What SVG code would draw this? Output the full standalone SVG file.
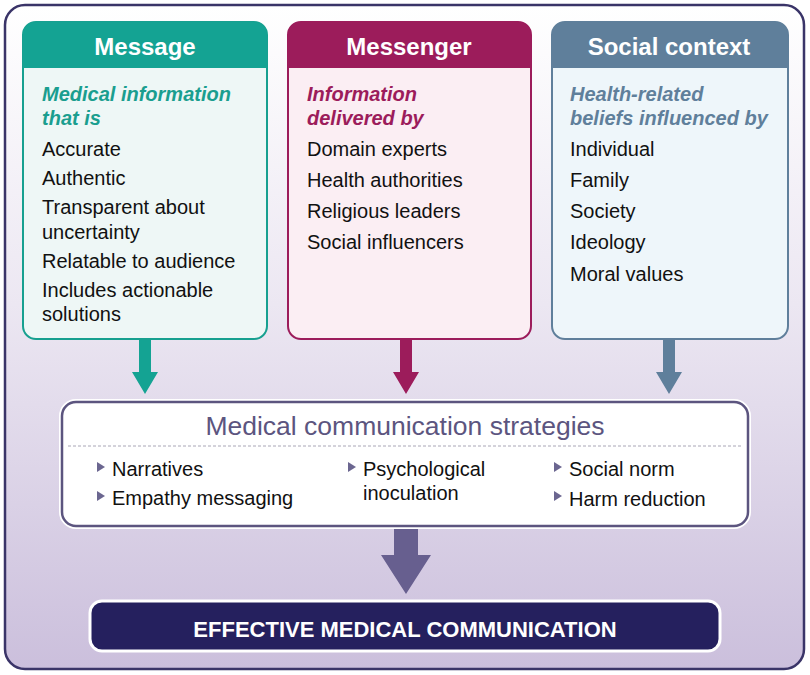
<svg xmlns="http://www.w3.org/2000/svg" width="810" height="675" viewBox="0 0 810 675">
<defs>
<linearGradient id="bg" x1="0" y1="0" x2="0" y2="1">
<stop offset="0" stop-color="#ffffff"/>
<stop offset="0.45" stop-color="#ece7f2"/>
<stop offset="1" stop-color="#cbbfdc"/>
</linearGradient>
</defs>
<style>
text{font-family:"Liberation Sans",Arial,sans-serif;}
.hd{font-size:24px;font-weight:bold;fill:#ffffff;text-anchor:middle;}
.sub{font-size:20px;font-style:italic;font-weight:bold;}
.it{font-size:20px;fill:#111111;}
.st{font-size:20px;fill:#111111;}
.tri{fill:#6b6690;}
</style>
<rect x="5" y="5" width="799" height="664" rx="20" fill="url(#bg)" stroke="#3a3468" stroke-width="2.5"/>

<g id="message">
<rect x="23" y="22" width="244" height="317" rx="13" fill="#eef7f6" stroke="#17a090" stroke-width="2"/>
<path d="M23,68 V35 a13,13 0 0 1 13,-13 H254 a13,13 0 0 1 13,13 V68 Z" fill="#14a393"/>
<text class="hd" x="145" y="55">Message</text>
<text class="sub" fill="#1a9e8f" x="42" y="101">Medical information</text>
<text class="sub" fill="#1a9e8f" x="42" y="125">that is</text>
<text class="it" x="42" y="156">Accurate</text>
<text class="it" x="42" y="185">Authentic</text>
<text class="it" x="42" y="214">Transparent about</text>
<text class="it" x="42" y="239">uncertainty</text>
<text class="it" x="42" y="268">Relatable to audience</text>
<text class="it" x="42" y="297">Includes actionable</text>
<text class="it" x="42" y="321">solutions</text>
</g>

<g id="messenger">
<rect x="288" y="22" width="243" height="317" rx="13" fill="#fbeef3" stroke="#9c1c5b" stroke-width="2"/>
<path d="M288,68 V35 a13,13 0 0 1 13,-13 H518 a13,13 0 0 1 13,13 V68 Z" fill="#9c1c5b"/>
<text class="hd" x="409" y="55">Messenger</text>
<text class="sub" fill="#9c1c5b" x="307" y="101">Information</text>
<text class="sub" fill="#9c1c5b" x="307" y="125">delivered by</text>
<text class="it" x="307" y="156">Domain experts</text>
<text class="it" x="307" y="187">Health authorities</text>
<text class="it" x="307" y="218">Religious leaders</text>
<text class="it" x="307" y="249">Social influencers</text>
</g>

<g id="social">
<rect x="552" y="22" width="236" height="317" rx="13" fill="#eef6fa" stroke="#5f7f9b" stroke-width="2"/>
<path d="M552,68 V35 a13,13 0 0 1 13,-13 H775 a13,13 0 0 1 13,13 V68 Z" fill="#5f7f9b"/>
<text class="hd" x="669" y="55">Social context</text>
<text class="sub" fill="#5f7f9b" x="570" y="101">Health-related</text>
<text class="sub" fill="#5f7f9b" x="570" y="125">beliefs influenced by</text>
<text class="it" x="570" y="156">Individual</text>
<text class="it" x="570" y="187">Family</text>
<text class="it" x="570" y="218">Society</text>
<text class="it" x="570" y="249">Ideology</text>
<text class="it" x="570" y="281">Moral values</text>
</g>

<g id="connectors">
<polygon points="139,340 151,340 151,372 158,372 145,394 132,372 139,372" fill="#14a393"/>
<polygon points="400,340 412,340 412,372 419,372 406,394 393,372 400,372" fill="#9c1c5b"/>
<polygon points="663,340 675,340 675,372 682,372 669,394 656,372 663,372" fill="#5f7f9b"/>
<polygon points="394,527 418,527 418,555 431,555 406,594 381,555 394,555" fill="#675f8f"/>
</g>

<g id="strategies">
<rect x="62" y="402" width="686" height="124" rx="14" fill="#ffffff" stroke="#ffffff" stroke-width="6"/>
<rect x="62" y="402" width="686" height="124" rx="14" fill="#ffffff" stroke="#5c557f" stroke-width="2.5"/>
<text x="405" y="435" font-size="26.5" fill="#5c557f" text-anchor="middle">Medical communication strategies</text>
<line x1="68" y1="446" x2="742" y2="446" stroke="#a9a6b6" stroke-width="1" stroke-dasharray="3,2"/>
<polygon class="tri" points="97,462 97,472 105,467"/>
<text class="st" x="112" y="476">Narratives</text>
<polygon class="tri" points="97,491 97,501 105,496"/>
<text class="st" x="112" y="505">Empathy messaging</text>
<polygon class="tri" points="348,462 348,472 356,467"/>
<text class="st" x="363" y="476">Psychological</text>
<text class="st" x="363" y="500">inoculation</text>
<polygon class="tri" points="554,462 554,472 562,467"/>
<text class="st" x="569" y="476">Social norm</text>
<polygon class="tri" points="554,491 554,501 562,496"/>
<text class="st" x="569" y="506">Harm reduction</text>
</g>

<g id="effective">
<rect x="90" y="601" width="630" height="50" rx="12" fill="#25205e" stroke="#ffffff" stroke-width="3"/>
<text x="405" y="637" font-size="22" font-weight="bold" fill="#ffffff" text-anchor="middle">EFFECTIVE MEDICAL COMMUNICATION</text>
</g>
</svg>
